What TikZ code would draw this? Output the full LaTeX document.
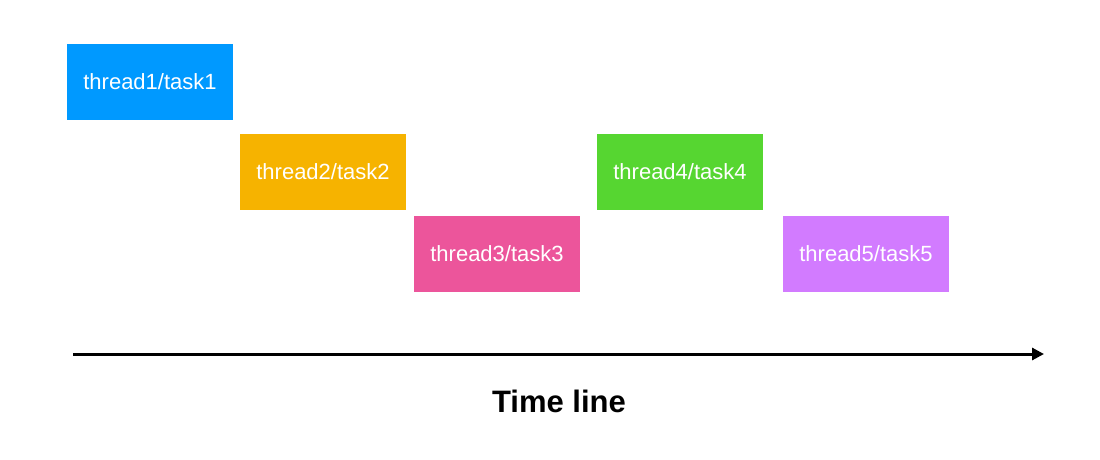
\documentclass[tikz,border=0pt]{standalone}
\usepackage{fontspec}
\setmainfont{Liberation Sans}
\usepackage{xcolor}
\usetikzlibrary{arrows.meta}

\definecolor{taskblue}{HTML}{0099FF}
\definecolor{taskorange}{HTML}{F6B300}
\definecolor{taskpink}{HTML}{EC559B}
\definecolor{taskgreen}{HTML}{56D631}
\definecolor{taskpurple}{HTML}{D27BFF}

\tikzset{
	taskbox/.style={fill=#1, text=white, minimum width=166pt, minimum height=76pt,
		inner sep=0pt, font=\fontsize{22}{24}\selectfont},
}

\begin{document}
\begin{tikzpicture}[x=1pt,y=-1pt]
		\useasboundingbox (0,0) rectangle (1100,460);
		\node[taskbox=taskblue] (t1) at (150,82) {thread1/task1};
		\node[taskbox=taskorange] (t2) at (323,171.5) {thread2/task2};
		\node[taskbox=taskpink] (t3) at (497,254) {thread3/task3};
		\node[taskbox=taskgreen] (t4) at (680,171.5) {thread4/task4};
		\node[taskbox=taskpurple] (t5) at (866,254) {thread5/task5};
		% time axis
		\coordinate (start) at (73,354);
		\coordinate (end) at (1044,354);
		\draw[line width=3pt, -{Triangle[length=12pt,width=12pt]}] (start) -- (end);
		\node[anchor=base, font=\fontsize{31}{36}\selectfont\bfseries] (timeline) at (559,412) {Time line};
	\end{tikzpicture}
\end{document}
